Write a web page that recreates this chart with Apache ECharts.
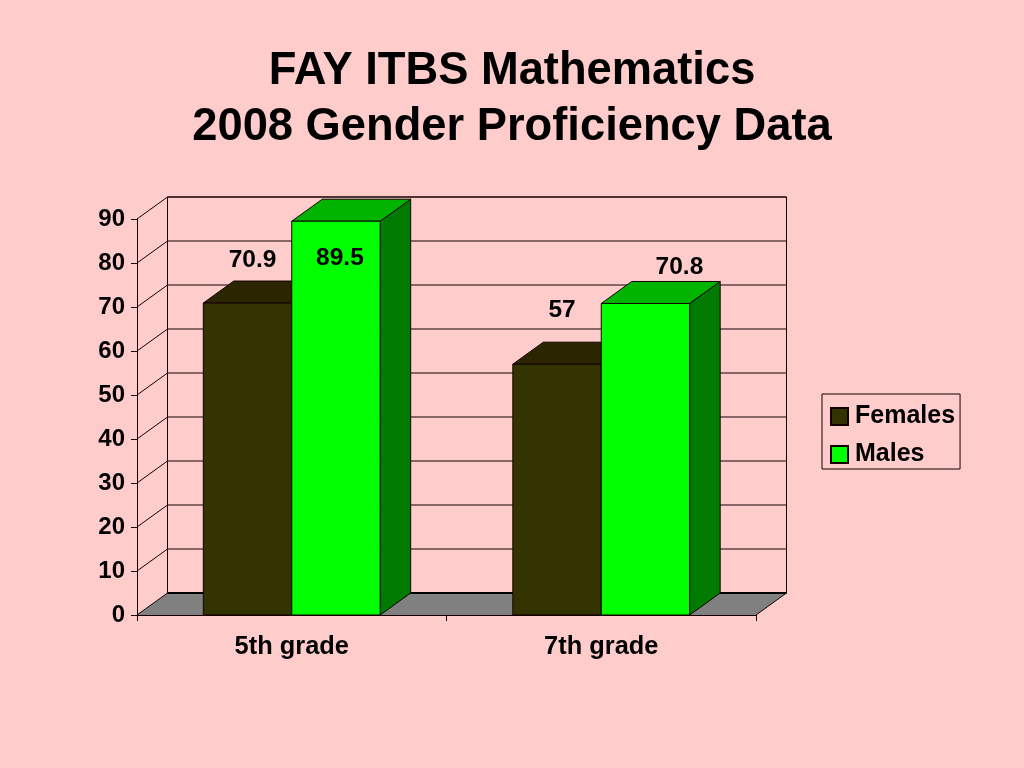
<!DOCTYPE html>
<html><head><meta charset="utf-8">
<style>html,body{margin:0;padding:0;background:#ffcccc}#c{width:1024px;height:768px}</style>
<script src="https://cdn.jsdelivr.net/npm/echarts@6/dist/echarts.min.js"></script>
</head><body><div id="c"></div>
<script>
const categories = ['5th grade', '7th grade'];
const females = [70.9, 57];
const males = [89.5, 70.8];
const femaleLabels = ['70.9', '57'];
const maleLabels = ['89.5', '70.8'];
const yTicks = [0, 10, 20, 30, 40, 50, 60, 70, 80, 90];

const DX = 30.5, DY = -22;
const FONT = '"Liberation Sans", Arial, sans-serif';
const INK = '#140000';
const labelNudge = {
  Females: [[5, -43], [5, -54]],
  Males: [[4, 37], [34, -36]]
};
function barSeries(name, values, labels, front, top, side, sideIndex) {
  return {
    name, type: 'custom', z: 5, clip: false,
    itemStyle: { color: front, borderColor: INK, borderWidth: 1 },
    data: values.map((v, i) => [i, v, labels[i]]),
    encode: { x: 0, y: 1 },
    renderItem(params, api) {
      const i = api.value(0), v = api.value(1);
      const catW = api.size([1, 0])[0];
      const w = catW / 3.5;
      const c = api.coord([i, v]), b = api.coord([i, 0]);
      const x0 = c[0] + (sideIndex - 1) * w, x1 = x0 + w, yT = c[1], yB = b[1];
      const st = fill => ({ fill, stroke: INK, lineWidth: 1 });
      const n = labelNudge[name][i];
      return { type: 'group', children: [
        { type: 'polygon', shape: { points: [[x1, yT], [x1 + DX, yT + DY], [x1 + DX, yB + DY], [x1, yB]] }, style: st(side) },
        { type: 'polygon', shape: { points: [[x0, yT], [x0 + DX, yT + DY], [x1 + DX, yT + DY], [x1, yT]] }, style: st(top) },
        { type: 'rect', shape: { x: x0, y: yT, width: w, height: yB - yT }, style: st(front) },
        { type: 'text', z2: 20, style: { text: api.value(2), x: (x0 + x1) / 2 + n[0], y: yT + n[1], align: 'center', verticalAlign: 'middle', fill: '#000', font: 'bold 24.5px ' + FONT } }
      ] };
    }
  };
}
const chart = echarts.init(document.getElementById('c'), null, { renderer: 'canvas' });
chart.setOption({
  animation: false,
  backgroundColor: '#ffcccc',
  title: {
    text: 'FAY ITBS Mathematics\n2008 Gender Proficiency Data',
    left: 507, textAlign: 'center', top: 39,
    textStyle: { fontFamily: FONT, fontWeight: 'bold', fontSize: 45.3, lineHeight: 56, color: '#000' }
  },
  legend: {
    orient: 'vertical', left: 822, top: 394, padding: [10, 5, 2, 8],
    itemWidth: 17, itemHeight: 17, itemGap: 13, selectedMode: false, icon: 'rect',
    borderColor: INK, borderWidth: 1,
    textStyle: { fontFamily: FONT, fontWeight: 'bold', fontSize: 25, color: '#000', padding: [0, 0, 0, 2] },
    data: ['Females', 'Males']
  },
  grid: { left: 137, right: 268, top: 219, bottom: 153 },
  xAxis: {
    type: 'category', data: categories, boundaryGap: true,
    axisLine: { lineStyle: { color: INK, width: 1 } },
    axisTick: { show: true, alignWithLabel: false, interval: 0, length: 6, lineStyle: { color: INK } },
    axisLabel: { fontFamily: FONT, fontWeight: 'bold', fontSize: 25.4, color: '#000', margin: 19 }
  },
  yAxis: {
    type: 'value', min: 0, max: 90, interval: 10,
    splitLine: { show: false },
    axisLine: { show: true, lineStyle: { color: INK, width: 1 } },
    axisTick: { show: true, length: 6, lineStyle: { color: INK } },
    axisLabel: { fontFamily: FONT, fontWeight: 'bold', fontSize: 24, color: '#000', margin: 12, padding: [4, 0, 0, 0] }
  },
  series: [
    {
      type: 'custom', z: 1, clip: false, silent: true, legendHoverLink: false,
      data: yTicks.map(v => [0, v]), encode: { x: 0, y: 1 },
      renderItem(params, api) {
        const g = params.coordSys, v = api.value(1), y = api.coord([0, v])[1];
        const L = g.x, R = g.x + g.width, B = g.y + g.height;
        const kids = [{ type: 'polyline', shape: { points: [[L, y], [L + DX, y + DY], [R + DX, y + DY]] }, style: { fill: 'none', stroke: INK, lineWidth: 1 } }];
        if (v === 0) {
          kids.unshift({ type: 'polygon', shape: { points: [[L, B], [R, B], [R + DX, B + DY], [L + DX, B + DY]] }, style: { fill: '#808080', stroke: 'none' } });
          kids.push({ type: 'line', shape: { x1: L + DX, y1: B + DY, x2: R + DX, y2: B + DY }, style: { stroke: '#000', lineWidth: 2 } });
          kids.push({ type: 'line', shape: { x1: R, y1: B, x2: R + DX, y2: B + DY }, style: { stroke: INK, lineWidth: 1 } });
          kids.push({ type: 'polyline', shape: { points: [[L + DX, B + DY], [L + DX, g.y + DY], [R + DX, g.y + DY], [R + DX, B + DY]] }, style: { fill: 'none', stroke: INK, lineWidth: 1 } });
        }
        return { type: 'group', children: kids };
      }
    },
    barSeries('Females', females, femaleLabels, '#333300', '#2b2600', '#262600', 0),
    barSeries('Males', males, maleLabels, '#00ff00', '#00b400', '#007a00', 1)
  ]
});
</script></body></html>
